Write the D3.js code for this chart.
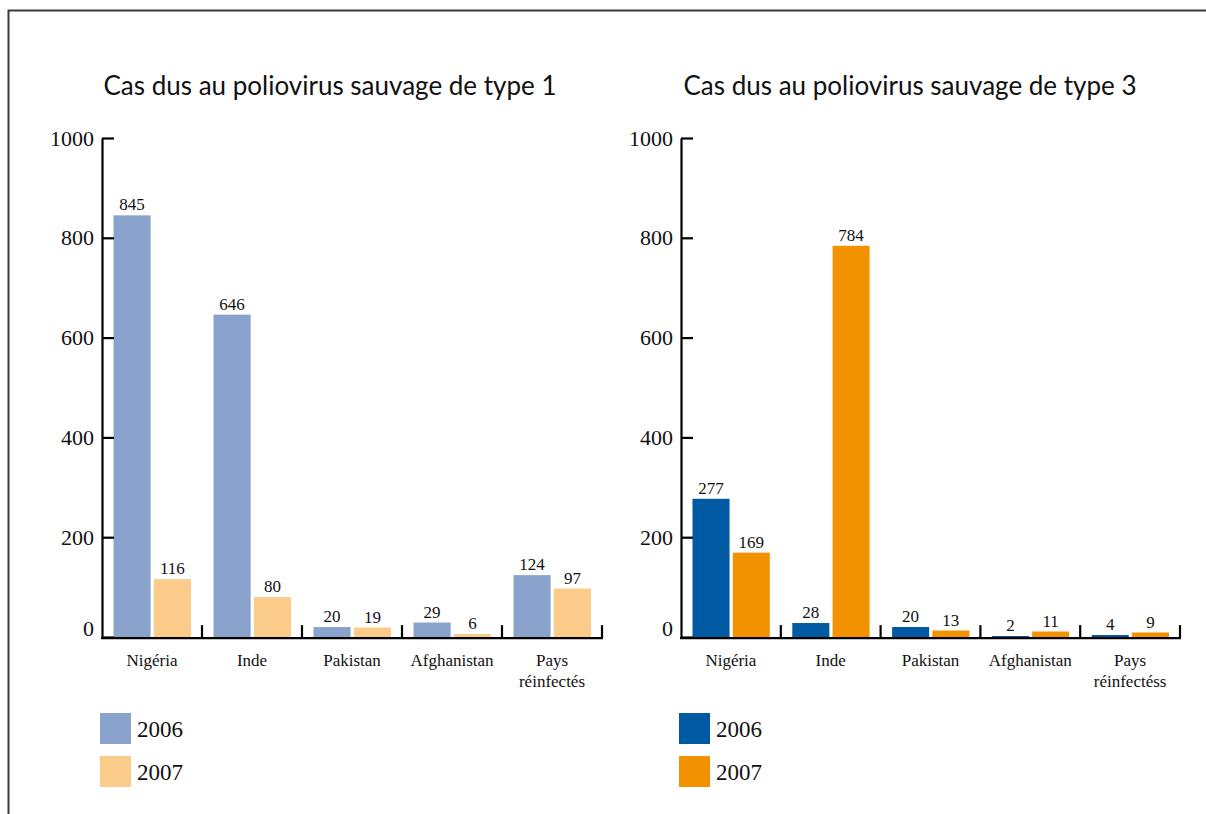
<!DOCTYPE html>
<html>
<head>
<meta charset="utf-8">
<script src="https://cdn.jsdelivr.net/npm/d3@7"></script>
<style>
  html, body { margin: 0; padding: 0; background: #fff; }
  svg { display: block; }
  svg text.serif { font-family: "Liberation Serif", "Times New Roman", serif; }
</style>
</head>
<body>
<svg id="chart" width="1206" height="814"></svg>
<script>
// Wild poliovirus cases by country, 2006 vs 2007
const years = ["2006", "2007"];
const yTicks = [0, 200, 400, 600, 800, 1000];

const type1Title = "Cas dus au poliovirus sauvage de type 1";
const type1Categories = ["Nigéria", "Inde", "Pakistan", "Afghanistan", "Pays réinfectés"];
const type1Cases2006 = [845, 646, 20, 29, 124];
const type1Cases2007 = [116, 80, 19, 6, 97];
const type1Colors = ["#8aa3cd", "#fbcb8a"];

const type3Title = "Cas dus au poliovirus sauvage de type 3";
const type3Categories = ["Nigéria", "Inde", "Pakistan", "Afghanistan", "Pays réinfectéss"];
const type3Cases2006 = [277, 28, 20, 2, 4];
const type3Cases2007 = [169, 784, 13, 11, 9];
const type3Colors = ["#005aa3", "#f39200"];

const SERIF = "'Liberation Serif', 'DejaVu Serif', serif";
const svg = d3.select("#chart");

// frame lines (top and left)
svg.append("path")
  .attr("d", "M8.5,814 V10.5 H1206")
  .attr("fill", "none")
  .attr("stroke", "#3a3a3a")
  .attr("stroke-width", 2);

function drawPanel(opts) {
  const { left, right, title, titleCenter, categories, v2006, v2007, colors } = opts;
  const top = 138, bottom = 637;

  const g = svg.append("g");

  const y = d3.scaleLinear().domain([0, 1000]).range([bottom, top]);
  const x0 = d3.scaleBand().domain(categories).range([left, right]).padding(0);
  const x1 = d3.scaleBand().domain(years)
    .range([11.5, x0.bandwidth() - 11]).paddingInner(0.08);
  const color = d3.scaleOrdinal().domain(years).range(colors);

  const rows = categories.map((c, i) => ({ cat: c, vals: [
    { year: "2006", value: v2006[i] },
    { year: "2007", value: v2007[i] }
  ]}));

  // title
  const t = g.append("text")
    .attr("x", titleCenter).attr("y", 95)
    .attr("text-anchor", "middle")
    .style("font-family", "Lato, 'Open Sans', sans-serif")
    .attr("font-size", 22)
    .attr("fill", "#111")
    .text(title);
  const w = t.node().getComputedTextLength();
  t.attr("font-size", 22 * 453 / w);

  // bars
  const groups = g.selectAll("g.cat").data(rows).join("g")
    .attr("class", "cat")
    .attr("transform", d => `translate(${x0(d.cat)},0)`);

  groups.selectAll("rect").data(d => d.vals).join("rect")
    .attr("x", d => x1(d.year))
    .attr("width", x1.bandwidth())
    .attr("y", d => y(d.value))
    .attr("height", d => y(0) - y(d.value))
    .attr("fill", d => color(d.year));

  groups.selectAll("text.val").data(d => d.vals).join("text")
    .attr("class", "val serif")
    .attr("x", d => x1(d.year) + x1.bandwidth() / 2)
    .attr("y", d => y(d.value) - 5)
    .attr("text-anchor", "middle")
    .attr("font-size", 17)
    .attr("fill", "#111")
    .text(d => d.value);

  // y axis with inward ticks
  const yAxis = d3.axisLeft(y).tickValues(yTicks).tickFormat(d3.format("d"))
    .tickSizeInner(-12).tickSizeOuter(0).tickPadding(8);
  const ya = g.append("g")
    .attr("transform", `translate(${left},0)`)
    .call(yAxis);
  ya.select(".domain").attr("stroke", "#000").attr("stroke-width", 2.2);
  ya.selectAll(".tick line").attr("stroke", "#000").attr("stroke-width", 2.2);
  ya.selectAll(".tick text")
    .attr("class", "serif")
    .style("font-family", SERIF)
    .attr("font-size", 22)
    .attr("fill", "#111")
    .attr("dy", d => d === 0 ? "-0.05em" : "0.32em");

  // x axis: baseline just under the bars, with upward separators
  const base = bottom + 1.1;
  g.append("line")
    .attr("x1", left - 1).attr("x2", right + 1)
    .attr("y1", base).attr("y2", base)
    .attr("stroke", "#000").attr("stroke-width", 2.2);
  g.selectAll("line.sep").data(categories).join("line")
    .attr("class", "sep")
    .attr("x1", d => x0(d) + x0.bandwidth()).attr("x2", d => x0(d) + x0.bandwidth())
    .attr("y1", base).attr("y2", base - 13)
    .attr("stroke", "#000").attr("stroke-width", 2.2);

  // category labels (the two-word label wraps onto two lines)
  const labels = g.selectAll("text.cat").data(categories).join("text")
    .attr("class", "cat serif")
    .attr("text-anchor", "middle")
    .attr("font-size", 17)
    .attr("fill", "#111");
  labels.each(function (d) {
    const parts = d.startsWith("Pays") ? d.split(" ") : [d];
    const cx = x0(d) + x0.bandwidth() / 2;
    d3.select(this).selectAll("tspan").data(parts).join("tspan")
      .attr("x", cx)
      .attr("y", (p, i) => 666 + i * 21)
      .text(p => p);
  });

  // legend
  const lg = g.append("g")
    .attr("transform", `translate(${left - 2},713)`);
  years.forEach((yr, i) => {
    lg.append("rect")
      .attr("x", 0).attr("y", i * 43)
      .attr("width", 31).attr("height", 31)
      .attr("fill", color(yr));
    lg.append("text")
      .attr("class", "serif")
      .style("font-family", SERIF)
      .attr("x", 37).attr("y", i * 43 + 24)
      .attr("font-size", 23)
      .attr("fill", "#111")
      .text(yr);
  });
}

drawPanel({
  left: 102, right: 602, title: type1Title, titleCenter: 330,
  categories: type1Categories, v2006: type1Cases2006, v2007: type1Cases2007,
  colors: type1Colors
});
drawPanel({
  left: 681, right: 1180, title: type3Title, titleCenter: 910,
  categories: type3Categories, v2006: type3Cases2006, v2007: type3Cases2007,
  colors: type3Colors
});
</script>
</body>
</html>
